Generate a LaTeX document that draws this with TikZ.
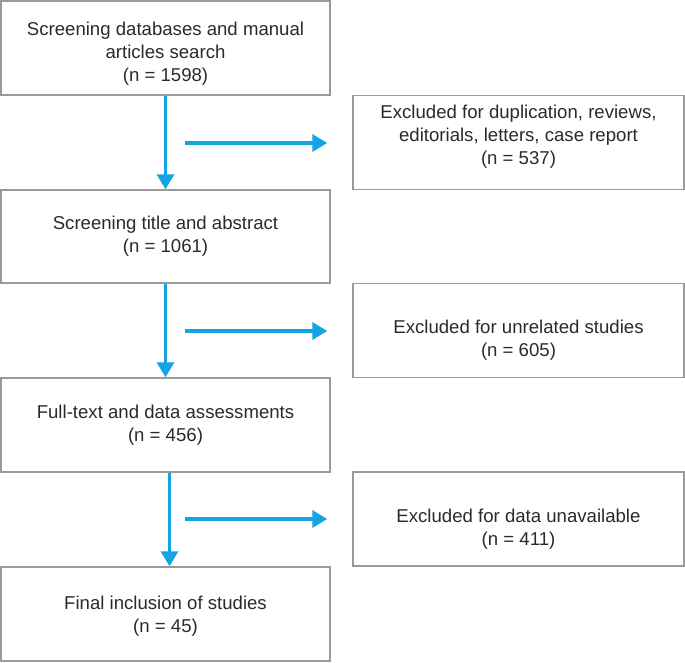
\documentclass[tikz,border=0pt]{standalone}
\usepackage{fontspec}
\setmainfont{Liberation Sans}
\usetikzlibrary{arrows.meta}
\definecolor{flowblue}{HTML}{14A3E3}
\definecolor{boxgrey}{HTML}{9A9A9A}
\definecolor{textgrey}{HTML}{2A2A2A}
\tikzset{
  stage/.style={draw=boxgrey, line width=1.4pt, text=textgrey, align=center,
    minimum width=329pt, minimum height=94pt, inner sep=0pt,
    font=\fontsize{18.6}{23}\selectfont},
  flow/.style={draw=flowblue, line width=3.5pt, -{Triangle[length=15pt,width=17pt]}}
}
\begin{document}
\begin{tikzpicture}[x=1pt, y=-1pt]
  \useasboundingbox (0,0) rectangle (685,662);
  % Main stages
  \node[stage, text height=71pt] (search) at (165.5,48) {Screening databases and manual\\articles search\\(n = 1598)};
  \node[stage, minimum height=93pt] (title) at (165.5,236.5) {Screening title and abstract\\(n = 1061)};
  \node[stage] (full) at (165.5,425) {Full-text and data assessments\\(n = 456)};
  \node[stage, text height=40pt] (final) at (165.5,614) {Final inclusion of studies\\(n = 45)};
  % Exclusions
  \node[stage, minimum width=331pt, text depth=16pt] (exdup) at (518.5,142.5) {Excluded for duplication, reviews,\\editorials, letters, case report\\(n = 537)};
  \node[stage, minimum width=331pt, text height=56pt] (exunrel) at (518.5,330.5) {Excluded for unrelated studies\\(n = 605)};
  \node[stage, minimum width=331pt, text height=56pt] (exdata) at (518.5,519) {Excluded for data unavailable\\(n = 411)};
  % Arrows down
  \draw[flow] (search) -- (title);
  \draw[flow] (title) -- (full);
  \draw[flow] ([xshift=4pt]full.south) -- ([xshift=4pt]final.north);
  % Arrows right
  \foreach \y/\ex in {143/exdup, 331/exunrel, 519/exdata} {
    \coordinate (from-\ex) at (185,\y);
    \draw[flow, shorten >=25pt] (from-\ex) -- (from-\ex -| \ex.west);
  }
\end{tikzpicture}
\end{document}
